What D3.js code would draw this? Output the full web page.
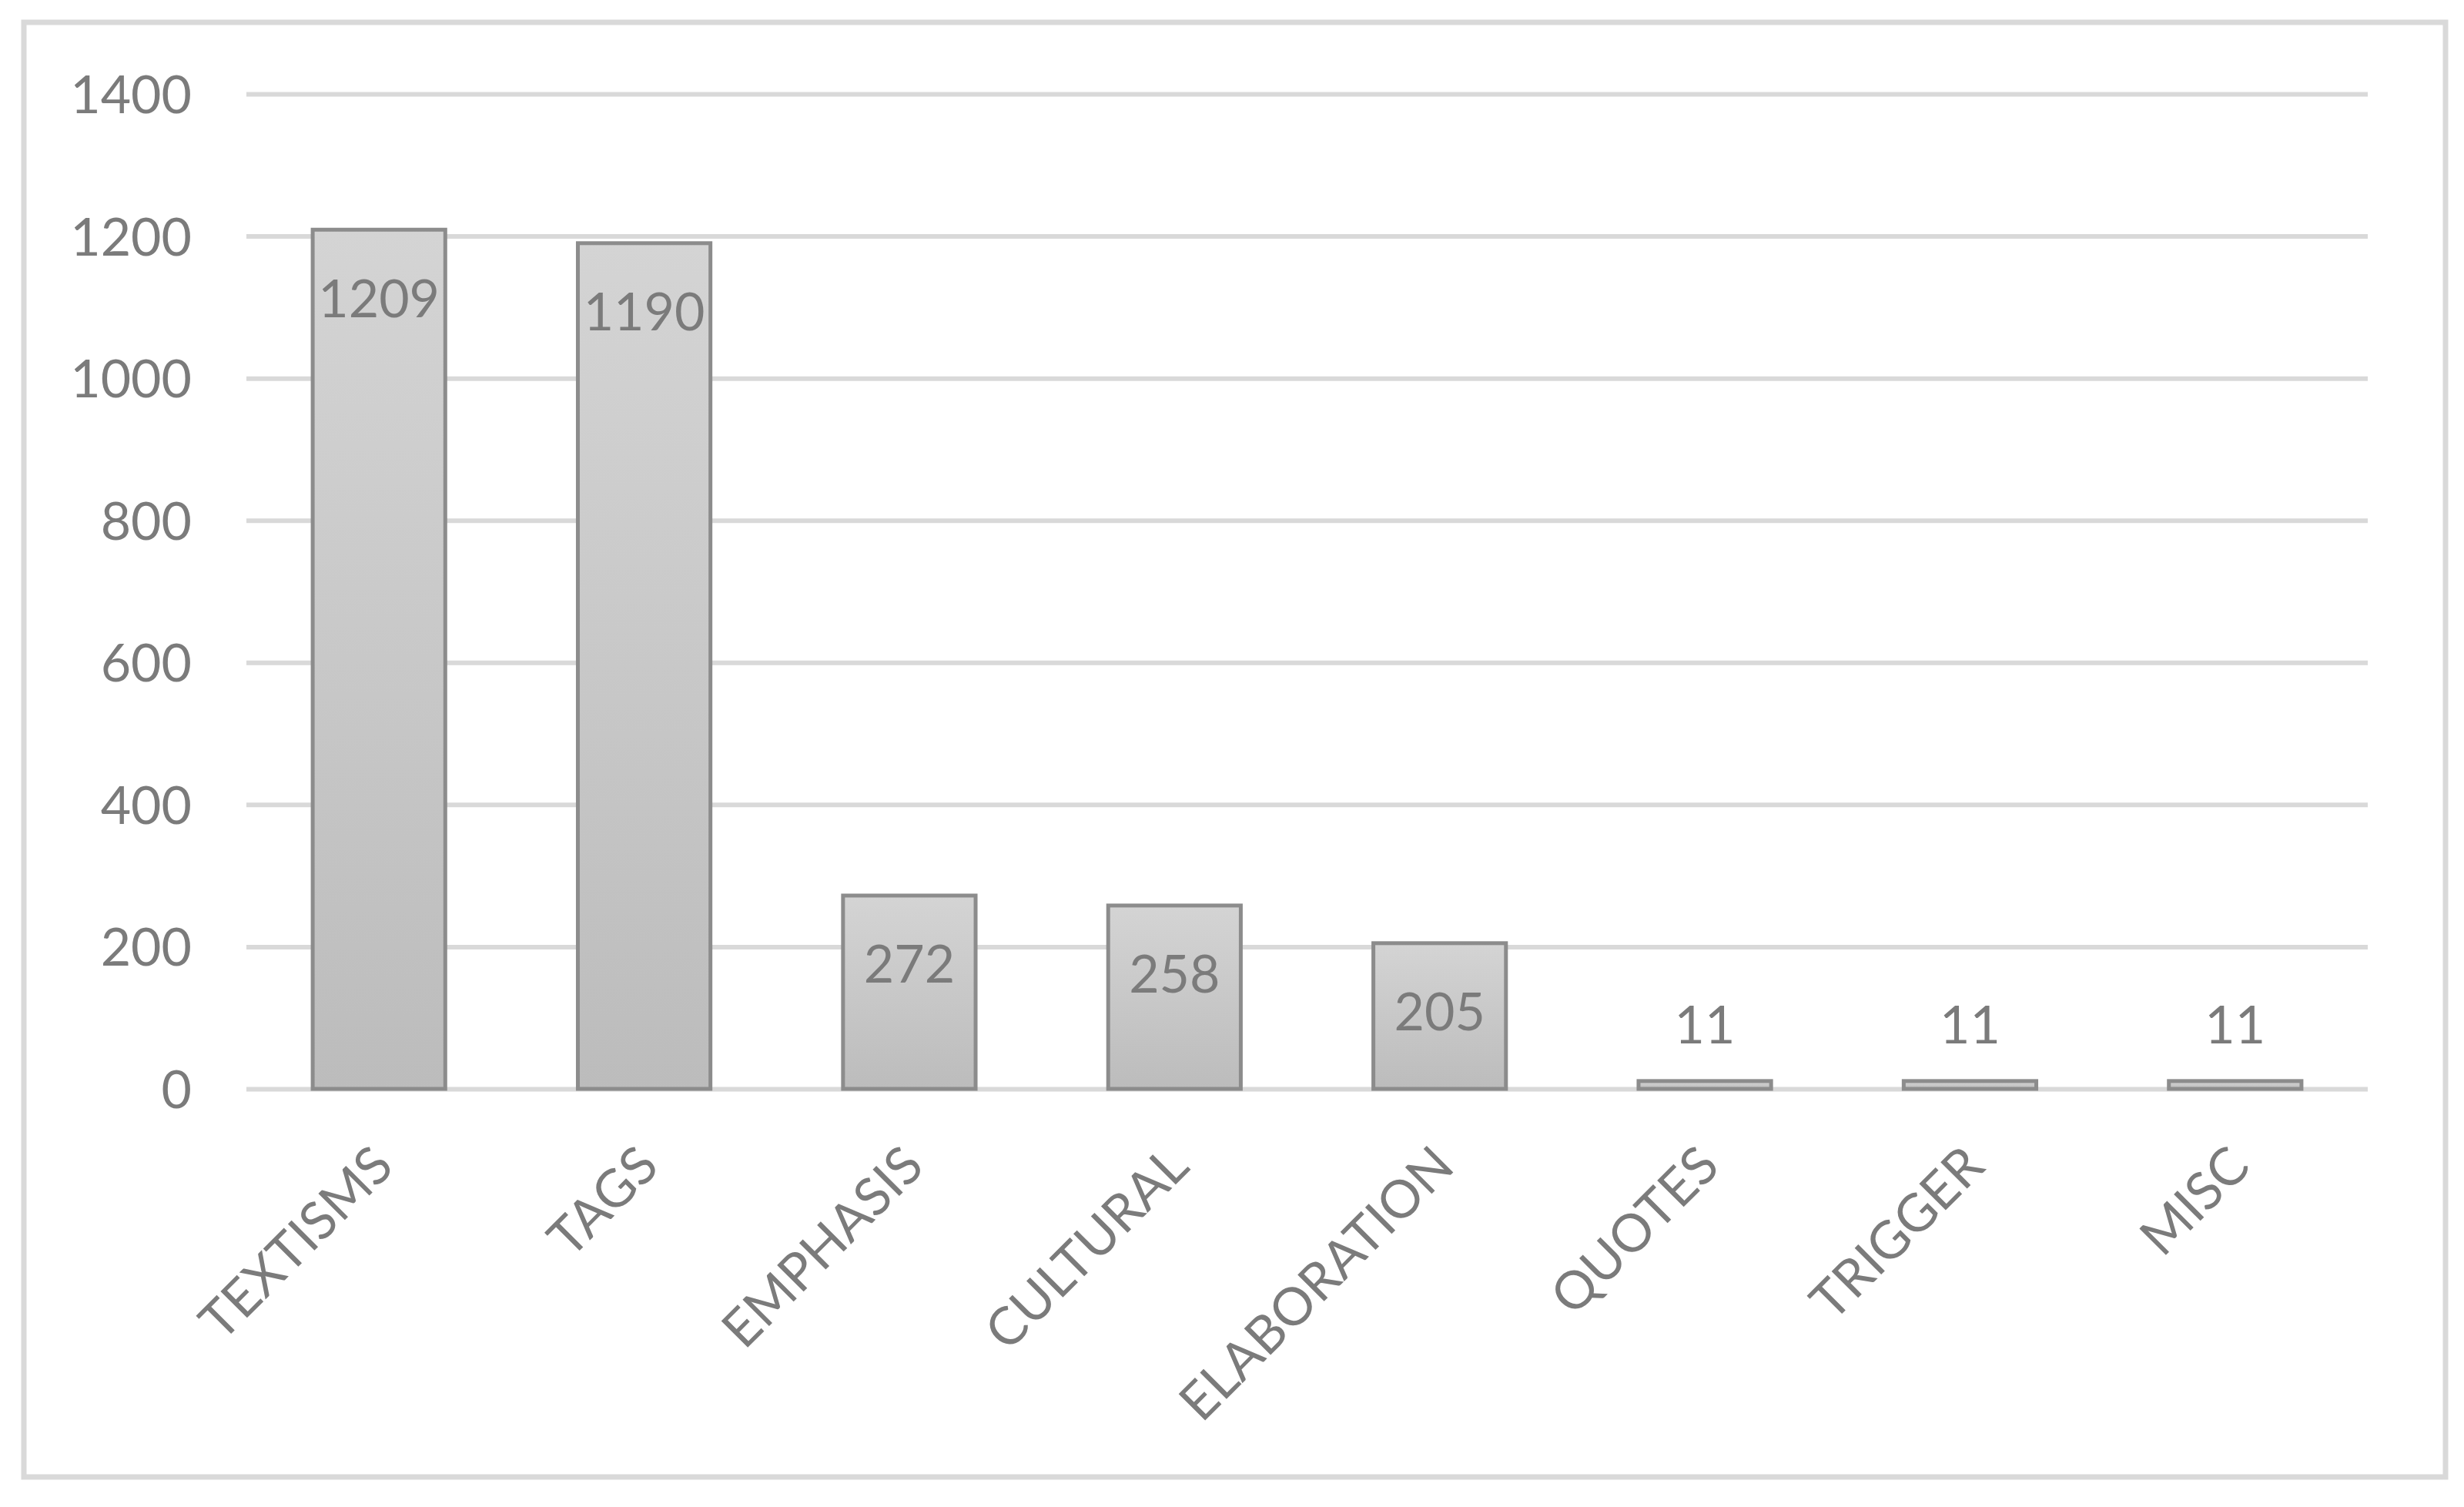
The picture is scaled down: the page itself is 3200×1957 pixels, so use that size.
<!DOCTYPE html>
<html>
<head>
<meta charset="utf-8">
<script src="https://cdn.jsdelivr.net/npm/d3@7"></script>
<style>
  html, body { margin: 0; padding: 0; background: #ffffff; }
  svg { display: block; }
</style>
</head>
<body>
<svg id="chart" width="3200" height="1957"></svg>
<script>
const categories = ['TEXTISMS', 'TAGS', 'EMPHASIS', 'CULTURAL', 'ELABORATION', 'QUOTES', 'TRIGGER', 'MISC'];
const counts = [1209, 1190, 272, 258, 205, 11, 11, 11];
const yTicks = [0, 200, 400, 600, 800, 1000, 1200, 1400];

const svg = d3.select('#chart');
const font = 'Lato, "Open Sans", sans-serif';
const textColor = '#7b7b7b';

const plot = { left: 320, right: 3075, top: 122, bottom: 1414 };

// outer frame
svg.append('rect')
  .attr('x', 31)
  .attr('y', 29)
  .attr('width', 3145)
  .attr('height', 1889)
  .attr('fill', '#ffffff')
  .attr('stroke', '#d9d9d9')
  .attr('stroke-width', 7);

const defs = svg.append('defs');
const grad = defs.append('linearGradient')
  .attr('id', 'bar-fill')
  .attr('x1', 0).attr('y1', 0)
  .attr('x2', 0).attr('y2', 1);
grad.append('stop').attr('offset', '0%').attr('stop-color', '#d4d4d4');
grad.append('stop').attr('offset', '100%').attr('stop-color', '#bcbcbc');

const x = d3.scaleBand()
  .domain(categories)
  .range([plot.left, plot.right])
  .paddingInner(0.5)
  .paddingOuter(0.25);

const y = d3.scaleLinear()
  .domain([0, 1400])
  .range([plot.bottom, plot.top]);

// gridlines + y labels
const yAxis = svg.append('g')
  .attr('transform', `translate(${plot.left},0)`)
  .call(d3.axisLeft(y)
    .tickValues(yTicks)
    .tickSize(-(plot.right - plot.left))
    .tickPadding(71)
    .tickFormat(d3.format('d')));

yAxis.select('.domain').remove();
yAxis.selectAll('.tick line')
  .attr('stroke', '#d9d9d9')
  .attr('stroke-width', 6);
yAxis.selectAll('.tick text')
  .attr('fill', textColor)
  .attr('dy', '0.36em')
  .style('font-family', font)
  .style('font-size', '68px');

// bars
svg.append('g')
  .selectAll('rect')
  .data(counts)
  .enter()
  .append('rect')
  .attr('x', (d, i) => x(categories[i]))
  .attr('y', d => y(d))
  .attr('width', x.bandwidth())
  .attr('height', d => y(0) - y(d))
  .attr('fill', 'url(#bar-fill)')
  .attr('stroke', '#8c8c8c')
  .attr('stroke-width', 5);

// value labels
svg.append('g')
  .selectAll('text')
  .data(counts)
  .enter()
  .append('text')
  .attr('x', (d, i) => x(categories[i]) + x.bandwidth() / 2)
  .attr('y', d => (y(0) - y(d) > 150 ? y(d) + 89 : y(d) - 73))
  .attr('dy', '0.36em')
  .attr('text-anchor', 'middle')
  .attr('fill', textColor)
  .style('font-family', font)
  .style('font-size', '68px')
  .text(d => d);

// category labels, rotated
svg.append('g')
  .selectAll('text')
  .data(categories)
  .enter()
  .append('text')
  .attr('text-anchor', 'end')
  .attr('transform', d => `translate(${x(d) + x.bandwidth() / 2 + 22},${plot.bottom + 104}) rotate(-45)`)
  .attr('fill', textColor)
  .style('font-family', font)
  .style('font-size', '68px')
  .text(d => d);
</script>
</body>
</html>
